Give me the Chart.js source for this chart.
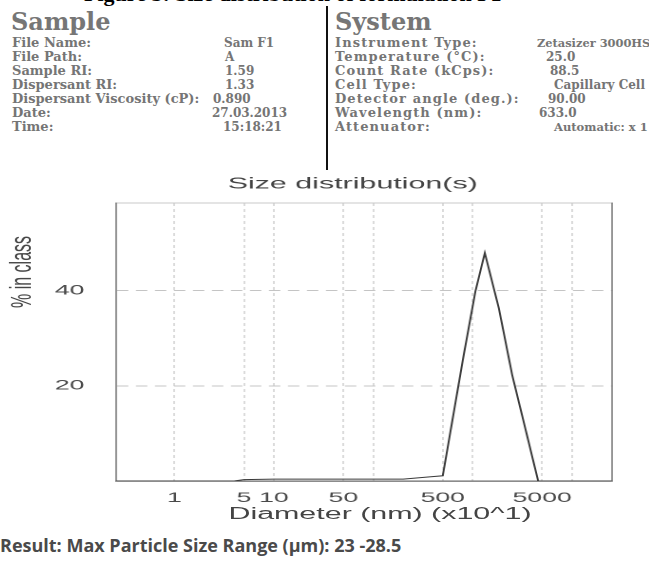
<!DOCTYPE html>
<html>
<head>
<meta charset="utf-8">
<script src="https://cdn.jsdelivr.net/npm/chart.js@4.4.1/dist/chart.umd.min.js"></script>
<style>
  html, body { margin: 0; padding: 0; background: #fff; }
  #page { position: relative; width: 649px; height: 561px; overflow: hidden; background: #fff; }
  .t { position: absolute; white-space: nowrap; font-family: "DejaVu Serif", serif; font-weight: bold; color: #757575; font-size: 13px; line-height: 14px; }
  .v { position: absolute; white-space: nowrap; font-family: "DejaVu Serif", serif; font-weight: bold; color: #757575; font-size: 12px; line-height: 14px; }
  .rl { letter-spacing: 1.1px; }
  .h { position: absolute; white-space: nowrap; font-family: "DejaVu Serif", serif; font-weight: bold; color: #767676; font-size: 24px; line-height: 28px; }
  #cap { position: absolute; left: 84px; top: -18.5px; font-family: "Liberation Serif", serif; font-weight: bold; font-size: 22px; line-height: 24px; color: #000; white-space: nowrap; }
  #divider { position: absolute; left: 326px; top: 6px; width: 2px; height: 164px; background: #111; z-index: 2; }
  #chartWrap { position: absolute; left: 5px; top: 160px; width: 366px; height: 370px; transform: scaleX(1.9); transform-origin: 0 0; }
  .axt { position: absolute; font-family: "Liberation Sans", Arial, sans-serif; font-size: 16px; line-height: 18px; color: #444; white-space: nowrap; }
  #ytitle { left: 21px; top: 272px; transform: translate(-50%, -50%) rotate(-90deg) scaleY(1.9); }
  #xtitle { left: 380px; top: 514px; transform: translate(-50%, -50%) scaleX(1.9); }
  #result { position: absolute; left: 0px; top: 533px; font-family: "Open Sans", Lato, sans-serif; font-weight: bold; font-size: 18px; line-height: 24px; color: #4a4a4a; white-space: nowrap; }
</style>
</head>
<body>
<div id="page">
  <div id="cap">Figure 3: Size distribution of formulation F1</div>

  <div class="h" style="left:11px; top:8px;">Sample</div>
  <div class="h" style="left:335px; top:8px;">System</div>
  <div id="divider"></div>

  <div class="t" style="left:12px; top:36px;">File Name:</div>
  <div class="t" style="left:12px; top:50px;">File Path:</div>
  <div class="t" style="left:12px; top:64px;">Sample RI:</div>
  <div class="t" style="left:12px; top:78px;">Dispersant RI:</div>
  <div class="t" style="left:12px; top:92px;">Dispersant Viscosity (cP):</div>
  <div class="t" style="left:12px; top:106px;">Date:</div>
  <div class="t" style="left:12px; top:120px;">Time:</div>

  <div class="v" style="left:224px; top:36px;">Sam F1</div>
  <div class="v" style="left:225px; top:50px;">A</div>
  <div class="v" style="left:225px; top:64px;">1.59</div>
  <div class="v" style="left:225px; top:78px;">1.33</div>
  <div class="v" style="left:213px; top:92px;">0.890</div>
  <div class="v" style="left:212px; top:106px;">27.03.2013</div>
  <div class="v" style="left:223px; top:120px;">15:18:21</div>

  <div class="t rl" style="left:335px; top:36px;">Instrument Type:</div>
  <div class="t rl" style="left:335px; top:50px;">Temperature (°C):</div>
  <div class="t rl" style="left:335px; top:64px;">Count Rate (kCps):</div>
  <div class="t rl" style="left:335px; top:78px;">Cell Type:</div>
  <div class="t rl" style="left:335px; top:92px;">Detector angle (deg.):</div>
  <div class="t rl" style="left:335px; top:106px;">Wavelength (nm):</div>
  <div class="t rl" style="left:335px; top:120px;">Attenuator:</div>

  <div class="v" style="left:537px; top:36px; font-size:11.4px;">Zetasizer 3000HS</div>
  <div class="v" style="left:546px; top:50px;">25.0</div>
  <div class="v" style="left:550px; top:64px;">88.5</div>
  <div class="v" style="left:554px; top:78px;">Capillary Cell</div>
  <div class="v" style="left:548px; top:92px;">90.00</div>
  <div class="v" style="left:539px; top:106px;">633.0</div>
  <div class="v" style="left:554px; top:120px; font-size:11.5px;">Automatic: x 1</div>

  <div id="chartWrap"><canvas id="c" width="366" height="370"></canvas></div>
  <div id="ytitle" class="axt">% in class</div>
  <div id="xtitle" class="axt">Diameter (nm) (x10^1)</div>

  <div id="result">Result: Max Particle Size Range (µm): 23 -28.5</div>
</div>
<script>
// ---- data ----
const diameters = [0.26, 4, 5, 10, 50, 100, 200, 380, 500, 813, 1064, 1324, 1832, 2494, 4557, 25000];
const percentInClass = [0, 0, 0.3, 0.4, 0.4, 0.4, 0.4, 0.9, 1.1, 26.5, 39.8, 47.9, 36.3, 22.3, 0, 0];
const xTickValues = [1, 5, 10, 50, 100, 500, 1000, 5000, 10000];
const xTickLabels = ['1', '5', '10', '50', '', '500', '', '5000', ''];
const yTickValues = [20, 40];
const xMin = 0.258, xMax = 25500;
const yMin = 0, yMax = 58.4;

const FONT = '"Liberation Sans", Arial, sans-serif';
const points = diameters.map((d, i) => ({ x: d, y: percentInClass[i] }));

new Chart(document.getElementById('c'), {
  type: 'line',
  data: {
    datasets: [{
      data: points,
      borderColor: '#3a3a3a',
      borderWidth: 1.0,
      pointRadius: 0,
      tension: 0,
      fill: false
    }]
  },
  options: {
    responsive: false,
    animation: false,
    devicePixelRatio: 2,
    layout: { padding: 0 },
    plugins: {
      legend: { display: false },
      tooltip: { enabled: false },
      title: {
        display: true,
        text: 'Size distribution(s)',
        color: '#444',
        font: { family: FONT, size: 16, weight: 'normal' },
        padding: { top: 14.4, bottom: 9.4 }
      }
    },
    scales: {
      x: {
        type: 'logarithmic',
        position: 'bottom',
        min: xMin, max: xMax,
        afterBuildTicks: s => { s.ticks = xTickValues.map(v => ({ value: v })); },
        afterFit: s => { s.height = 49; },
        ticks: {
          autoSkip: false, maxRotation: 0, minRotation: 0,
          padding: 8.6,
          color: '#4a4a4a',
          font: { family: FONT, size: 14 },
          callback: (v, i) => xTickLabels[i]
        },
        grid: { color: '#c4c4c4', lineWidth: 0.6, drawTicks: false },
        border: { display: true, color: '#666', width: 1.2, dash: [3, 3] },
        title: { display: false }
      },
      xTop: {
        type: 'linear',
        position: 'top',
        afterFit: s => { s.height = 0; },
        ticks: { display: false },
        grid: { display: false },
        border: { display: true, color: '#c8c8c8', width: 1 }
      },
      y: {
        type: 'linear',
        position: 'left',
        min: yMin, max: yMax,
        afterBuildTicks: s => { s.ticks = yTickValues.map(v => ({ value: v })); },
        afterFit: s => { s.width = 58.4; },
        ticks: {
          padding: 16.6,
          color: '#4a4a4a',
          font: { family: FONT, size: 14 }
        },
        grid: { color: '#c4c4c4', lineWidth: 1, drawTicks: false },
        border: { display: true, color: '#7a7a7a', width: 0.8, dash: [6, 4] },
        title: { display: false }
      },
      yRight: {
        type: 'linear',
        position: 'right',
        min: yMin, max: yMax,
        afterFit: s => { s.width = 46.26; },
        ticks: { display: false },
        grid: { display: false },
        border: { display: true, color: '#7a7a7a', width: 0.8 }
      }
    }
  }
});
</script>
</body>
</html>
